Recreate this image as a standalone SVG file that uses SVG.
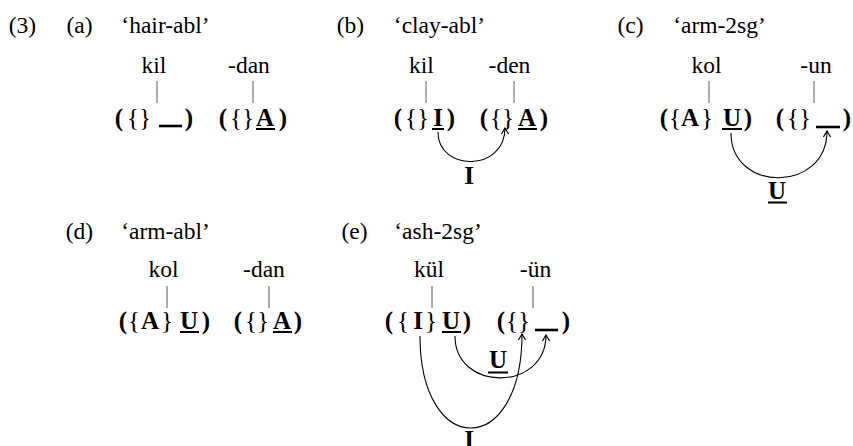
<svg xmlns="http://www.w3.org/2000/svg" width="853" height="446" viewBox="0 0 853 446">
<style>
text{font-family:"Liberation Serif","DejaVu Serif",serif;fill:#000}
.t{font-size:23.5px;text-anchor:middle}
.b{font-size:25px;font-weight:bold;text-anchor:middle}
.r{font-size:25px;text-anchor:middle}
.ul{stroke:#000;stroke-width:2}
.bl{stroke:#000;stroke-width:2.6}
.v{stroke:#444;stroke-width:0.9}
.arc{fill:none;stroke:#000;stroke-width:1.1;marker-end:url(#ah)}
</style>
<defs>
<marker id="ah" markerUnits="userSpaceOnUse" markerWidth="12" markerHeight="12" refX="0" refY="0" viewBox="-7 -5 9 10" orient="auto">
<path d="M-5,-3 Q-1.5,-0.8 0,0 Q-1.5,0.8 -5,3" fill="none" stroke="#000" stroke-width="1"/>
</marker>
</defs>
<g id="titles">
<text class="t" x="22.5" y="33">(3)</text>
<text class="t" x="79.5" y="33">(a)</text>
<text class="t" x="165.5" y="33">‘hair-abl’</text>
<text class="t" x="350.5" y="33">(b)</text>
<text class="t" x="439.5" y="33">‘clay-abl’</text>
<text class="t" x="630.5" y="33">(c)</text>
<text class="t" x="719.5" y="33">‘arm-2sg’</text>
<text class="t" x="79.5" y="239">(d)</text>
<text class="t" x="165.5" y="239">‘arm-abl’</text>
<text class="t" x="354.5" y="239">(e)</text>
<text class="t" x="438" y="239">‘ash-2sg’</text>
</g>
<g id="a-kil"><text class="t" x="154" y="73">kil</text></g>
<g id="a-dan"><text class="t" x="249" y="73">-dan</text></g>
<g id="a-f1"><text class="b" x="119" y="126">(</text><text class="r" x="139" y="126">{}</text><line class="bl" x1="159" y1="126" x2="182" y2="126"/><text class="b" x="189" y="126">)</text></g>
<g id="a-f2"><text class="b" x="223" y="126">(</text><text class="r" x="242" y="126">{}</text><text class="b" x="265" y="126">A</text><line class="ul" x1="256" y1="129" x2="275" y2="129"/><text class="b" x="283" y="126">)</text></g>
<g id="b-kil"><text class="t" x="421.5" y="73">kil</text></g>
<g id="b-den"><text class="t" x="509.5" y="73">-den</text></g>
<g id="b-f1"><text class="b" x="398" y="126">(</text><text class="r" x="417" y="126">{}</text><text class="b" x="438" y="126">I</text><line class="ul" x1="432" y1="129" x2="444" y2="129"/><text class="b" x="451" y="126">)</text></g>
<g id="b-f2"><text class="b" x="484" y="126">(</text><text class="r" x="502" y="126">{}</text><text class="b" x="527" y="126">A</text><line class="ul" x1="518" y1="129" x2="537" y2="129"/><text class="b" x="544" y="126">)</text></g>
<g id="b-lab"><text class="b" x="469" y="184">I</text></g>
<g id="c-kol"><text class="t" x="706.5" y="73">kol</text></g>
<g id="c-un"><text class="t" x="816" y="73">-un</text></g>
<g id="c-f1"><text class="b" x="664" y="126">(</text><text class="r" x="675" y="126">{</text><text class="b" x="690" y="126">A</text><text class="r" x="707" y="126">}</text><text class="b" x="732" y="126">U</text><line class="ul" x1="722" y1="129" x2="742" y2="129"/><text class="b" x="748" y="126">)</text></g>
<g id="c-f2"><text class="b" x="780" y="126">(</text><text class="r" x="799" y="126">{}</text><line class="bl" x1="816" y1="127" x2="840" y2="127"/><text class="b" x="847" y="126">)</text></g>
<g id="c-lab"><text class="b" x="777" y="199">U</text><line class="ul" x1="768" y1="202.5" x2="787" y2="202.5"/></g>
<g id="d-kol"><text class="t" x="163.5" y="277">kol</text></g>
<g id="d-dan"><text class="t" x="264" y="277">-dan</text></g>
<g id="d-f1"><text class="b" x="123" y="329">(</text><text class="r" x="134" y="329">{</text><text class="b" x="150" y="329">A</text><text class="r" x="167" y="329">}</text><text class="b" x="189" y="329">U</text><line class="ul" x1="180" y1="332" x2="199" y2="332"/><text class="b" x="206" y="329">)</text></g>
<g id="d-f2"><text class="b" x="238" y="329">(</text><text class="r" x="257" y="329">{}</text><text class="b" x="282" y="329">A</text><line class="ul" x1="273" y1="332" x2="292" y2="332"/><text class="b" x="298" y="329">)</text></g>
<g id="e-kul"><text class="t" x="429" y="277">kül</text></g>
<g id="e-un"><text class="t" x="535.5" y="277">-ün</text></g>
<g id="e-f1"><text class="b" x="389" y="329">(</text><text class="r" x="403" y="329">{</text><text class="b" x="418" y="329">I</text><text class="r" x="431" y="329">}</text><text class="b" x="451" y="329">U</text><line class="ul" x1="442" y1="332" x2="461" y2="332"/><text class="b" x="467" y="329">)</text></g>
<g id="e-f2"><text class="b" x="501" y="329">(</text><text class="r" x="518" y="329">{}</text><line class="bl" x1="535" y1="330" x2="558" y2="330"/><text class="b" x="566" y="329">)</text></g>
<g id="e-labU"><text class="b" x="498" y="368">U</text><line class="ul" x1="488" y1="372.5" x2="508" y2="372.5"/></g>
<g id="e-labI"><text class="b" x="469" y="448">I</text></g>
<g id="connectors">
<line class="v" x1="157" y1="81" x2="157" y2="103"/>
<line class="v" x1="253" y1="81" x2="253" y2="103"/>
<line class="v" x1="426" y1="81" x2="426" y2="103"/>
<line class="v" x1="514" y1="81" x2="514" y2="103"/>
<line class="v" x1="709" y1="81" x2="709" y2="103"/>
<line class="v" x1="814" y1="81" x2="814" y2="103"/>
<line class="v" x1="167" y1="286" x2="167" y2="308"/>
<line class="v" x1="269" y1="286" x2="269" y2="308"/>
<line class="v" x1="432" y1="286" x2="432" y2="308"/>
<line class="v" x1="533" y1="286" x2="533" y2="308"/>
<path class="arc" d="M438,132 C438,172 505,172 505,128"/>
<path class="arc" d="M731,133 C731,193 827,193 827,131"/>
<path class="arc" d="M455,336 C455,392 546,392 546,335"/>
<path class="arc" d="M420,336 C420,459 522,459 522,334"/>
</g>
</svg>
